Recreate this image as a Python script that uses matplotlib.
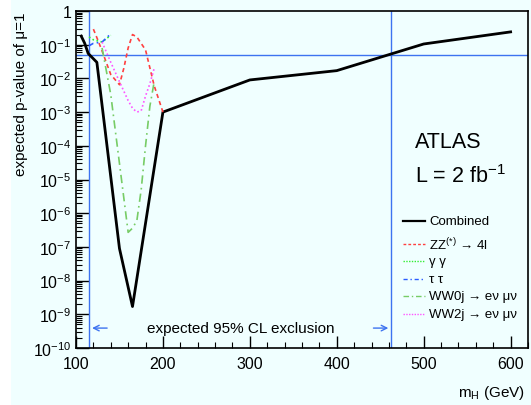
import matplotlib
matplotlib.use('Agg')
import matplotlib.pyplot as plt
from matplotlib.lines import Line2D
from matplotlib.patches import Rectangle
from matplotlib.ticker import FixedLocator, FixedFormatter, LogLocator, NullFormatter, MultipleLocator

plt.rcParams['font.family'] = ['Liberation Sans', 'DejaVu Sans']
plt.rcParams['mathtext.fontset'] = 'custom'
plt.rcParams['mathtext.rm'] = 'Liberation Sans'
plt.rcParams['mathtext.it'] = 'Liberation Sans:italic'

# Expected p-values of mu=1 per channel
mass_comb = [106, 110, 114, 124, 150, 165, 200, 300, 400, 500, 600]
p_comb = [0.18, 0.11, 0.055, 0.03, 9e-8, 1.7e-9, 1e-3, 9e-3, 0.017, 0.105, 0.24]

mass_zz = [120, 125, 130, 140, 150, 155, 160, 165, 170, 180, 190, 200]
p_zz = [0.29, 0.14, 0.065, 0.013, 0.0065, 0.02, 0.08, 0.2, 0.17, 0.07, 0.006, 1e-3]

mass_gg = [115, 120, 130, 140]
p_gg = [0.17, 0.14, 0.12, 0.19]

mass_tt = [115, 120, 130, 140]
p_tt = [0.093, 0.11, 0.12, 0.21]

mass_ww0 = [130, 140, 150, 160, 165, 170, 175, 180, 185, 190]
p_ww0 = [0.08, 3.3e-3, 3e-5, 2.7e-7, 3.6e-7, 6e-7, 5e-6, 1e-4, 1.5e-3, 0.008]

mass_ww2 = [130, 140, 150, 160, 165, 170, 175, 180, 185, 190]
p_ww2 = [0.12, 0.03, 0.008, 0.0022, 1.3e-3, 1e-3, 1.1e-3, 3e-3, 7e-3, 0.02]

exclusion = [115.3, 462.5]
p_ref = 0.05

bg = '#f0ffff'
fig = plt.figure(figsize=(5.31, 4.06), dpi=100, facecolor=bg)
fig.patches.append(Rectangle((0, 0), 11 / 531, 1, transform=fig.transFigure,
                             facecolor='white', edgecolor='none', zorder=-1))
ax = fig.add_axes([76 / 531, 1 - 349 / 406, 452 / 531, 337 / 406])
ax.set_facecolor(bg)

blue = '#3d73f0'
ax.axhline(p_ref, color=blue, lw=1.0)
for m in exclusion:
    ax.axvline(m, color=blue, lw=1.0)

ax.plot(mass_comb, p_comb, color='black', lw=2.0, label='Combined')
ax.plot(mass_zz, p_zz, color='#ff4040', lw=1.2, ls=(0, (2.5, 2)))
ax.plot(mass_gg, p_gg, color='#33ee33', lw=1.2, ls=(0, (1, 1.5)))
ax.plot(mass_tt, p_tt, color='#2a5cff', lw=1.2, ls=(0, (3, 2, 1, 2)))
ax.plot(mass_ww0, p_ww0, color='#77cc66', lw=1.2, ls=(0, (5, 2.5, 1, 2.5)))
ax.plot(mass_ww2, p_ww2, color='#ff55ff', lw=1.2, ls=(0, (1, 1.5)))

ax.set_yscale('log')
ax.set_xlim(100, 620)
ax.set_ylim(1e-10, 1)

# exclusion arrows
y_arr = 3.9e-10
ax.annotate('', xy=(exclusion[0], y_arr), xytext=(139, y_arr),
            arrowprops=dict(arrowstyle='->', color=blue, lw=1.0))
ax.annotate('', xy=(exclusion[1], y_arr), xytext=(439, y_arr),
            arrowprops=dict(arrowstyle='->', color=blue, lw=1.0))
ax.text(290, y_arr, 'expected 95% CL exclusion', ha='center', va='center', fontsize=11)

ax.text(0.75, 0.596, 'ATLAS', transform=ax.transAxes, fontsize=15.5, va='baseline')
ax.text(0.75, 0.493, r'L = 2 fb$^{-1}$', transform=ax.transAxes, fontsize=15.5, va='baseline')

# legend drawn by hand to keep the uneven spacing
leg = [
    ('Combined', 'black', 1.6, '-', 222),
    ('ZZ$^{(*)}$ → 4l', '#ff4040', 1.0, (0, (2, 1.5)), 245),
    ('γ γ', '#33ee33', 1.0, (0, (1, 1)), 262),
    ('τ τ', '#2a5cff', 1.0, (0, (3, 2, 1, 2)), 280),
    ('WW0j → eν μν', '#77cc66', 1.0, (0, (4, 2, 1, 2)), 297),
    ('WW2j → eν μν', '#ff55ff', 1.0, (0, (1, 1)), 315),
]
for label, col, lw, ls, ypx in leg:
    yf = (349 - ypx) / 337
    ax.add_line(Line2D([(403 - 76) / 452, (425 - 76) / 452], [yf, yf], transform=ax.transAxes,
                       color=col, lw=lw, ls=ls))
    ax.text((429 - 76) / 452, yf, label, transform=ax.transAxes, va='center', fontsize=9.5)

ax.xaxis.set_major_locator(MultipleLocator(100))
ax.xaxis.set_minor_locator(MultipleLocator(20))
ticks = [10.0 ** k for k in range(-10, 1)]
labels = ['$10^{%d}$' % k for k in range(-10, 0)] + ['1']
ax.yaxis.set_major_locator(FixedLocator(ticks))
ax.yaxis.set_major_formatter(FixedFormatter(labels))
ax.yaxis.set_minor_locator(LogLocator(base=10, subs=range(2, 10), numticks=20))
ax.yaxis.set_minor_formatter(NullFormatter())
ax.tick_params(which='both', direction='in', top=False, right=False, labelsize=11.5)
ax.tick_params(which='major', length=9, width=1)
ax.tick_params(which='minor', length=4.5, width=0.8)
ax.tick_params(axis='x', pad=6)
for s in ax.spines.values():
    s.set_linewidth(1.2)

ax.set_ylabel('expected p-value of μ=1', fontsize=11, loc='top')
ax.set_xlabel(r'm$_{\rm H}$ (GeV)', fontsize=11, loc='right')
ax.yaxis.set_label_coords(-0.106, 1.0)
ax.xaxis.set_label_coords(0.993, -0.104)

fig.savefig('out.png', dpi=100, facecolor=bg)
